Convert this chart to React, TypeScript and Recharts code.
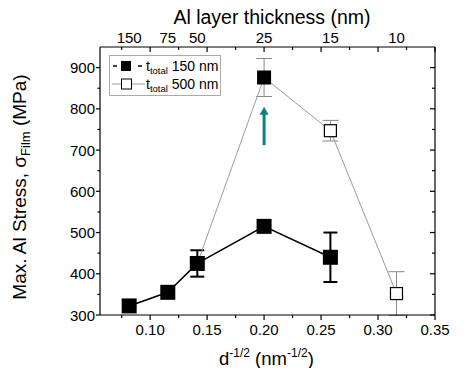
import {
  ScatterChart, Scatter, XAxis, YAxis, ErrorBar,
  ReferenceLine, ReferenceDot, Legend, Label,
} from 'recharts'

// d^-1/2 positions of the Al layer thicknesses (top axis labels)
const invRootD = [0.0816, 0.1155, 0.1414, 0.2, 0.2582, 0.3162]
const thicknessLabels = ['150', '75', '50', '25', '15', '10']

// t_total 150 nm
const s150X      = [0.0816, 0.1155, 0.1414, 0.2, 0.2582]
const s150Stress = [322, 355, 425, 515, 440]
const s150Err    = [0, 0, 32, 0, 60]

// t_total 500 nm
const s500X      = [0.1414, 0.2, 0.2582, 0.3162]
const s500Stress = [425, 876, 747, 352]
const s500Err    = [0, 46, 25, 53]

const xTicks = [0.075, 0.1, 0.125, 0.15, 0.175, 0.2, 0.225, 0.25, 0.275, 0.3, 0.325, 0.35]
const yTicks = [300, 350, 400, 450, 500, 550, 600, 650, 700, 750, 800, 850, 900]

// teal arrow at d = 25 nm
const arrowX = 0.2
const arrowTail = 712
const arrowHeadBase = 788
const arrowTip = 805

const FONT  = '"Liberation Sans", Arial, Helvetica, sans-serif'
const GRAY  = '#9b9b9b'
const TEAL  = '#0b8080'
const AXIS  = { stroke: '#000', strokeWidth: 1.2 }

const s150 = s150X.map((x, i) => ({ x, y: s150Stress[i], err: s150Err[i] }))
const s500 = s500X.map((x, i) => ({ x, y: s500Stress[i], err: s500Err[i] }))
const topTicks = Array.from(new Set([...xTicks, ...invRootD])).sort((a, b) => a - b)

const near = (a: number, b: number) => Math.abs(a - b) < 1e-4
const isMajorX = (v: number) => near(v * 20, Math.round(v * 20))

function BottomTick({ x, y, payload }: any) {
  const v = payload.value
  const major = isMajorX(v)
  return (
    <g>
      <line x1={x} x2={x} y1={y} y2={y + (major ? 5 : 3)} stroke="#000" strokeWidth={1.2} />
      {major && (
        <text x={x} y={y + 20} textAnchor="middle" fontSize={15} fontFamily={FONT} fill="#000">
          {v.toFixed(2)}
        </text>
      )}
    </g>
  )
}

function TopTick({ x, y, payload }: any) {
  const v = payload.value
  const isMark = xTicks.some(t => near(t, v))
  const li = invRootD.findIndex(t => near(t, v))
  return (
    <g>
      {isMark && <line x1={x} x2={x} y1={y} y2={y + (isMajorX(v) ? 5 : 3)} stroke="#000" strokeWidth={1.2} />}
      {li >= 0 && (
        <text x={x} y={y - 4} textAnchor="middle" fontSize={15} fontFamily={FONT} fill="#000">
          {thicknessLabels[li]}
        </text>
      )}
    </g>
  )
}

function LeftTick({ x, y, payload }: any) {
  const v = payload.value
  const major = v % 100 === 0
  return (
    <g>
      <line x1={x - (major ? 4 : 2.5)} x2={x} y1={y} y2={y} stroke="#000" strokeWidth={1.2} />
      {major && (
        <text x={x - 5} y={y + 5.5} textAnchor="end" fontSize={15} fontFamily={FONT} fill="#000">{v}</text>
      )}
    </g>
  )
}

function RightTick({ x, y, payload }: any) {
  const major = payload.value % 100 === 0
  return <line x1={x - (major ? 5 : 3)} x2={x} y1={y} y2={y} stroke="#000" strokeWidth={1.2} />
}

const XTitle = () => (
  <text x={219} y={365} fontSize={18.5} fontFamily={FONT} fill="#000">
    d<tspan fontSize={12} dy={-8}>-1/2</tspan>
    <tspan dy={8}> (nm</tspan>
    <tspan fontSize={12} dy={-8}>-1/2</tspan>
    <tspan dy={8}>)</tspan>
  </text>
)

const TopTitle = () => (
  <text x={272} y={24} textAnchor="middle" fontSize={19.5} fontFamily={FONT} fill="#000">
    Al layer thickness (nm)
  </text>
)

const YTitle = () => (
  <text x={26} y={187} transform="rotate(-90 26 187)" textAnchor="middle" fontSize={19} fontFamily={FONT} fill="#000">
    Max. Al Stress, σ<tspan fontSize={13} dy={4}>Film</tspan><tspan dy={-4}> (MPa)</tspan>
  </text>
)

const FilledSquare = ({ cx, cy }: any) => (
  <rect x={cx - 7.5} y={cy - 7.5} width={15} height={15} fill="#000" />
)

const S500Square = ({ cx, cy, payload }: any) =>
  near(payload.x, 0.2)
    ? <rect x={cx - 7} y={cy - 7} width={14} height={14} fill="#000" />
    : <rect x={cx - 6} y={cy - 6} width={12} height={12} fill="#fff" stroke="#000" strokeWidth={1.2} />

const ArrowHead = ({ cx, cy }: any) => (
  <polygon points={`${cx},${cy} ${cx - 4.5},${cy + 8} ${cx + 4.5},${cy + 8}`} fill={TEAL} />
)

function LegendBox() {
  return (
    <svg width={112} height={41} style={{ display: 'block' }}>
      <rect x={0.5} y={0.5} width={111} height={40} fill="#fff" stroke="#aaa" />
      <line x1={4} x2={8} y1={11} y2={11} stroke="#000" strokeWidth={1.5} />
      <rect x={12} y={6} width={10} height={10} fill="#000" />
      <line x1={29} x2={33} y1={11} y2={11} stroke="#000" strokeWidth={1.5} />
      <text x={37} y={16} fontSize={14} fontFamily={FONT} fill="#000">
        t<tspan fontSize={9.5} dy={3}>total</tspan><tspan dy={-3}> 150 nm</tspan>
      </text>
      <line x1={3} x2={36} y1={29} y2={29} stroke={GRAY} strokeWidth={1} />
      <rect x={12.5} y={24} width={10} height={10} fill="#fff" stroke="#000" strokeWidth={1} />
      <text x={37} y={34} fontSize={14} fontFamily={FONT} fill="#000">
        t<tspan fontSize={9.5} dy={3}>total</tspan><tspan dy={-3}> 500 nm</tspan>
      </text>
    </svg>
  )
}

export default function App() {
  return (
    <div style={{ position: 'absolute', left: 0, top: 0, width: 467, height: 368, background: '#fff', fontFamily: FONT }}>
      <ScatterChart width={467} height={368} margin={{ top: 0, right: 22, bottom: 0, left: 0 }}>
        <XAxis xAxisId="b" dataKey="x" type="number" domain={[0.056, 0.35]} allowDataOverflow
          ticks={xTicks} interval={0} tickSize={0} tickMargin={0} tickLine={false}
          tick={<BottomTick />} height={53} axisLine={AXIS}>
          <Label content={XTitle} />
        </XAxis>
        <XAxis xAxisId="t" orientation="top" dataKey="x" type="number" domain={[0.056, 0.35]} allowDataOverflow
          ticks={topTicks} interval={0} tickSize={0} tickMargin={0} tickLine={false}
          tick={<TopTick />} height={47} axisLine={AXIS}>
          <Label content={TopTitle} />
        </XAxis>
        <YAxis yAxisId="l" dataKey="y" type="number" domain={[300, 950]} allowDataOverflow
          ticks={yTicks} interval={0} tickSize={0} tickMargin={0} tickLine={false}
          tick={<LeftTick />} width={100} axisLine={AXIS}>
          <Label content={YTitle} />
        </YAxis>
        <YAxis yAxisId="r" orientation="right" dataKey="y" type="number" domain={[300, 950]} allowDataOverflow
          ticks={yTicks} interval={0} tickSize={0} tickMargin={0} tickLine={false}
          tick={<RightTick />} width={10} axisLine={AXIS} />

        <Legend layout="vertical" align="center" verticalAlign="middle" content={LegendBox}
          wrapperStyle={{ position: 'absolute', left: 109, top: 55, width: 112, height: 41 }} />

        <Scatter name="t_total 500 nm" data={s500} xAxisId="t" yAxisId="r" isAnimationActive={false}
          line={{ stroke: GRAY, strokeWidth: 1 }} shape={S500Square}>
          <ErrorBar dataKey="err" direction="y" width={8} stroke="#888" strokeWidth={1} isAnimationActive={false} />
        </Scatter>
        <Scatter name="t_total 150 nm" data={s150} xAxisId="b" yAxisId="l" isAnimationActive={false}
          line={{ stroke: '#000', strokeWidth: 1.5 }} shape={FilledSquare}>
          <ErrorBar dataKey="err" direction="y" width={7} stroke="#000" strokeWidth={2} isAnimationActive={false} />
        </Scatter>

        <ReferenceLine xAxisId="b" yAxisId="l" stroke={TEAL} strokeWidth={3}
          segment={[{ x: arrowX, y: arrowTail }, { x: arrowX, y: arrowHeadBase }]} />
        <ReferenceDot xAxisId="b" yAxisId="l" x={arrowX} y={arrowTip} shape={ArrowHead} />
      </ScatterChart>
    </div>
  )
}
